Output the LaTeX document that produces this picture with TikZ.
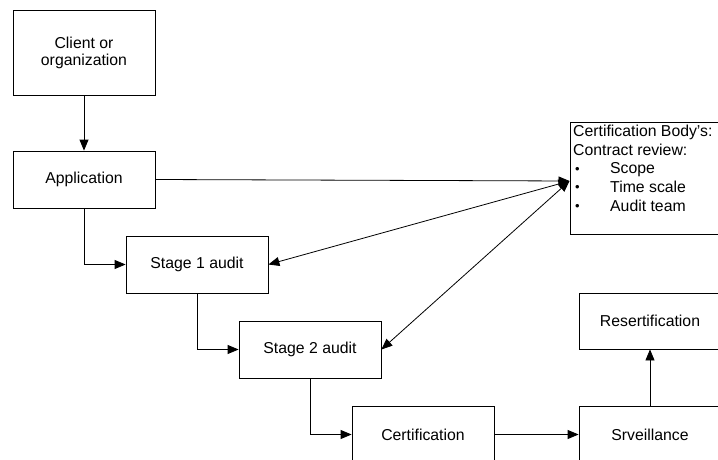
\documentclass[tikz,border=0pt]{standalone}
\usepackage{fontspec}
\setmainfont{Liberation Sans}
\usetikzlibrary{arrows.meta}
\tikzset{
  box/.style={draw, line width=0.8pt, minimum width=142pt, minimum height=57pt, inner sep=0pt, align=center, font=\fontsize{15.8}{17}\selectfont},
  tip/.style={Triangle[length=11pt,width=9pt]},
  conn/.style={line width=0.8pt, -{Triangle[length=11pt,width=9pt]}},
  dconn/.style={line width=0.8pt, {Triangle[length=11pt,width=9pt]}-{Triangle[length=11pt,width=9pt]}}
}
\newcommand{\cbbullet}{\hspace*{2pt}\makebox[35pt][l]{\raisebox{0.5pt}{\fontsize{13}{13}\selectfont\textbullet}}}
\begin{document}
\begin{tikzpicture}[x=1pt,y=-1pt]
\path[use as bounding box] (0,0) rectangle (718,460);
\clip (0,0) rectangle (718,460);
\node[box, minimum height=85pt] (client) at (84,52.5) {Client or\\organization};
\node[box] (app) at (84,179.5) {Application};
\node[box] (s1) at (197,264.5) {Stage 1 audit};
\node[box] (s2) at (310,349.5) {Stage 2 audit};
\node[box] (cert) at (423,434.5) {Certification};
\node[box] (surv) at (650,434.5) {Srveillance};
\node[box, minimum height=56pt] (resert) at (650,321) {Resertification};
\node[draw, line width=0.8pt, anchor=north west, minimum width=170pt, minimum height=112pt, inner sep=0pt] (cb) at (570,122) {};
\node[anchor=north west, align=left, inner sep=0pt, font=\fontsize{15.8}{18.6}\selectfont] (cbt) at (573,125) {Certification Body’s:\\Contract review:\\\cbbullet Scope\\\cbbullet Time scale\\\cbbullet Audit team};
\coordinate (cbin) at (569.5,181);
\draw[conn] (client) -- (app);
\draw[conn] (app.south) |- (s1.west);
\draw[conn] (s1.south) |- (s2.west);
\draw[conn] (s2.south) |- (cert.west);
\draw[conn] (cert) -- (surv);
\draw[conn] (surv) -- (resert);
\draw[conn] (app.east) -- (cbin);
\draw[dconn] (s1.east) -- (cbin);
\draw[dconn] (s2.east) -- (cbin);
\end{tikzpicture}
\end{document}
